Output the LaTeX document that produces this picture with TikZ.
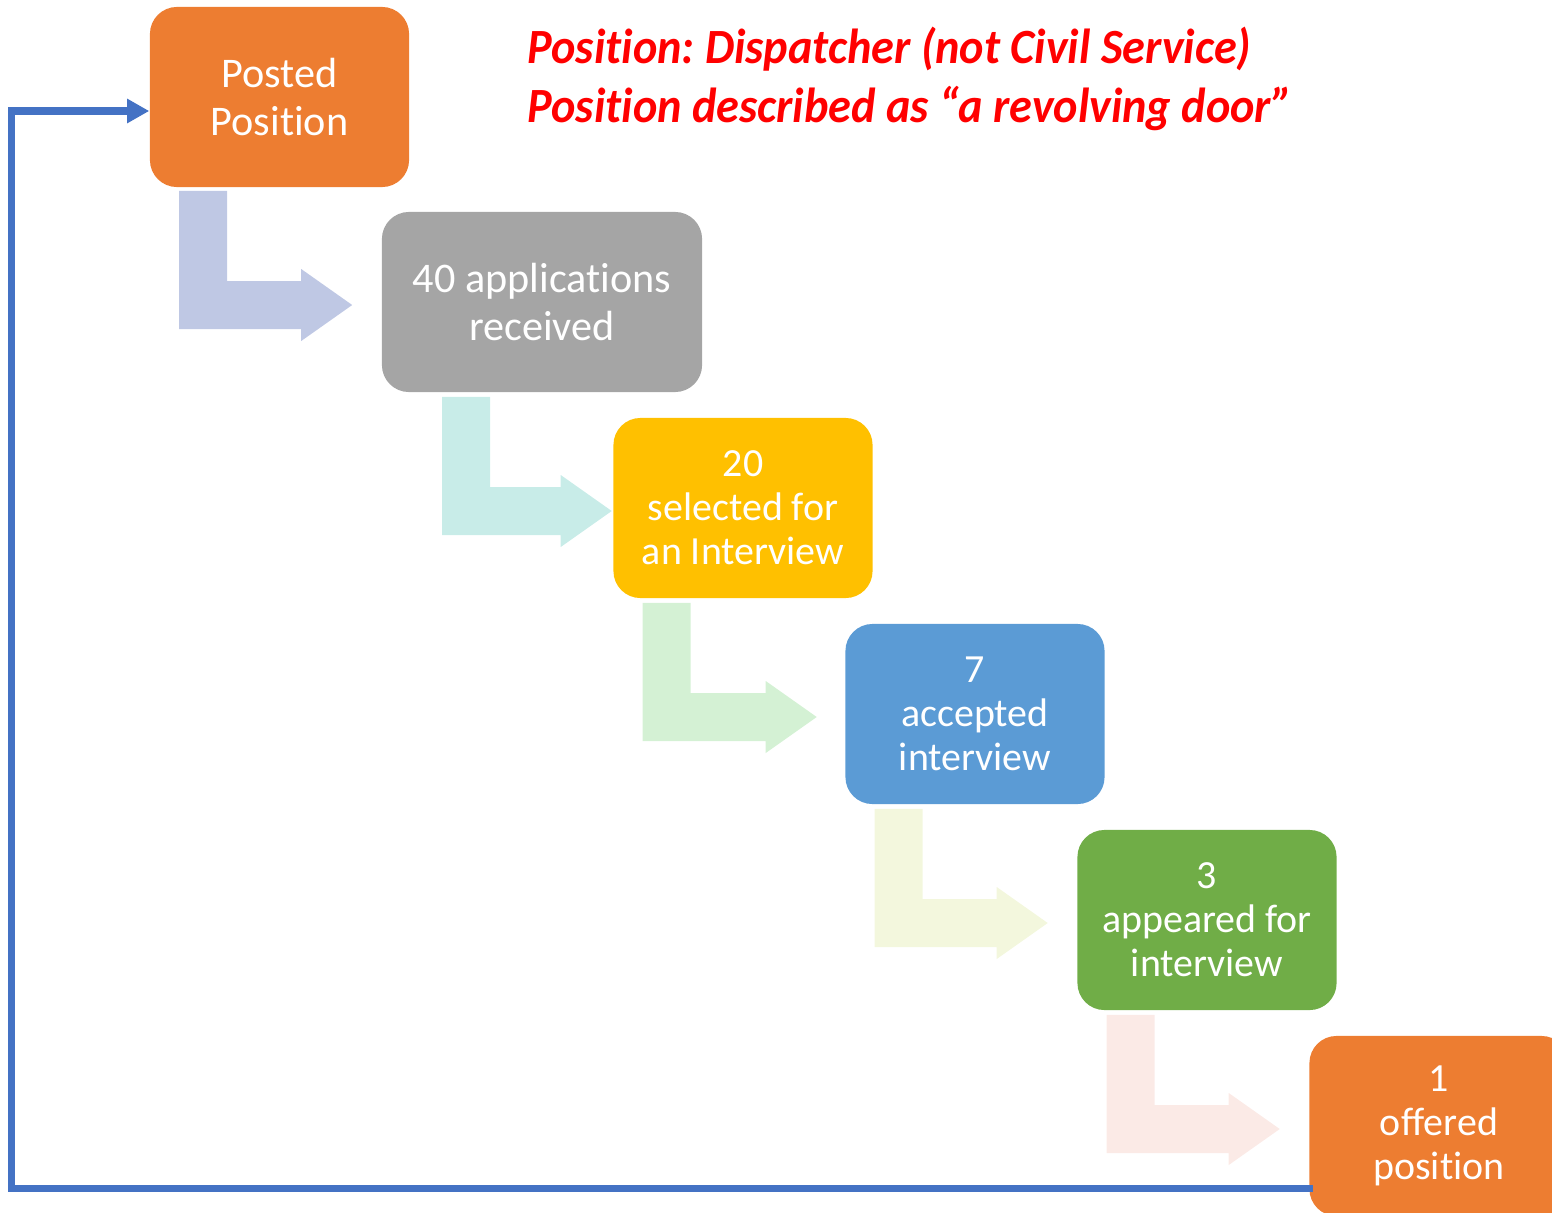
\documentclass[tikz,border=0pt]{standalone}
\usepackage{fontspec}
\setmainfont{Carlito}[Ligatures=NoCommon]
\newfontfamily\notefont{Carlito}[Ligatures=NoCommon, FakeStretch=0.94]
\usetikzlibrary{calc}
\usetikzlibrary{arrows.meta}

\definecolor{pptorange}{HTML}{ED7D31}
\definecolor{pptgray}{HTML}{A5A5A5}
\definecolor{pptgold}{HTML}{FFC000}
\definecolor{pptblue}{HTML}{5B9BD5}
\definecolor{pptgreen}{HTML}{70AD47}
\definecolor{lineblue}{HTML}{4472C4}
\definecolor{tintA}{HTML}{BFC8E4}
\definecolor{tintB}{HTML}{C8ECE8}
\definecolor{tintC}{HTML}{D4F1D4}
\definecolor{tintD}{HTML}{F3F7DD}
\definecolor{tintE}{HTML}{FBEAE6}

\newcommand{\bentarrow}[3]{%
  \fill[#3] ($(#1)+(-24,0)$) -- ($(#1)+(24,0)$) |- ($(#2)+(-51,-24)$)
    -- ($(#2)+(-51,-36)$) -- (#2) -- ($(#2)+(-51,36)$) -- ($(#2)+(-51,24)$)
    -| ($(#1)+(-24,0)$) -- cycle;}

\frenchspacing
\begin{document}
\begin{tikzpicture}[x=0.01cm, y=-0.01cm]
 \tikzstyle{stage}=[rectangle, rounded corners=0.27cm, minimum width=2.59cm, minimum height=1.8cm, inner sep=0pt, text=white, align=center, font=\fontsize{12}{13.4}\selectfont]
 \tikzstyle{stage3}=[stage, font=\fontsize{11.35}{12.5}\selectfont]
 \tikzstyle{note}=[text=red, anchor=base west, inner sep=0pt, font=\notefont\fontsize{14}{16}\selectfont\bfseries\itshape]
 \tikzstyle{back}=[draw=lineblue, line width=0.07cm, -{Triangle[length=0.22cm, width=0.23cm]}]

 \clip (0,0) rectangle (1552,1212);

 \draw (527,63) node[note] (title1) {Position: Dispatcher (not Civil Service)};
 \draw (527,122) node[note] (title2) {Position described as “a revolving door”};

 \draw (279.5,97) node[stage, fill=pptorange] (posted) {Posted\\Position};
 \draw (542,302) node[stage, fill=pptgray, minimum width=3.2cm] (apps) {40 applications\\received};
 \draw (743,508) node[stage3, fill=pptgold] (selected) {20\\selected for\\an Interview};
 \draw (975,714) node[stage3, fill=pptblue] (accepted) {7\\accepted\\interview};
 \draw (1207,920) node[stage3, fill=pptgreen] (appeared) {3\\appeared for\\interview};
 \draw (1439,1126) node[stage3, fill=pptorange] (offered) {1\\offered\\position};

 \coordinate (s1) at ($(posted.south west)+(54,3)$);
 \coordinate (e1) at ($(apps.west)+(-29,3)$);
 \bentarrow{s1}{e1}{tintA}
 \coordinate (s2) at ($(apps.south west)+(85,4)$);
 \coordinate (e2) at ($(selected.west)+(-1,3)$);
 \bentarrow{s2}{e2}{tintB}
 \coordinate (s3) at ($(selected.south west)+(54,4)$);
 \coordinate (e3) at ($(accepted.west)+(-28,3)$);
 \bentarrow{s3}{e3}{tintC}
 \coordinate (s4) at ($(accepted.south west)+(54,4)$);
 \coordinate (e4) at ($(appeared.west)+(-29,3)$);
 \bentarrow{s4}{e4}{tintD}
 \coordinate (s5) at ($(appeared.south west)+(54,4)$);
 \coordinate (e5) at ($(offered.west)+(-29,3)$);
 \bentarrow{s5}{e5}{tintE}

 \coordinate (fbstart) at ($(offered.south west)+(4,-28)$);
 \coordinate (turn) at ($(posted.west)+(-138,14)$);
 \draw[back] (fbstart) -| (turn) -- ($(posted.west)+(0,14)$);
\end{tikzpicture}
\end{document}
